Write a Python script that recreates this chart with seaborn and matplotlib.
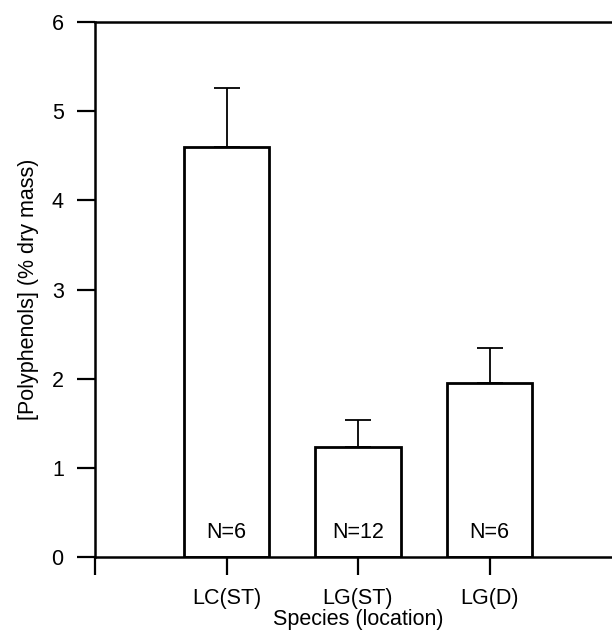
import matplotlib
matplotlib.use("Agg")
import matplotlib.pyplot as plt
import seaborn as sns
import pandas as pd

categories = ["LC(ST)", "LG(ST)", "LG(D)"]
means = [4.60, 1.23, 1.95]
errors = [0.66, 0.31, 0.39]
n_labels = ["N=6", "N=12", "N=6"]
yticks = [0, 1, 2, 3, 4, 5, 6]

sns.set_style("ticks")
plt.rcParams["font.family"] = ["Liberation Sans", "DejaVu Sans"]
plt.rcParams["text.color"] = "black"
plt.rcParams["axes.labelcolor"] = "black"
plt.rcParams["xtick.color"] = "black"
plt.rcParams["ytick.color"] = "black"

FS = 15.5

df = pd.DataFrame({"species": categories, "poly": means})

fig = plt.figure(figsize=(6.12, 6.33), dpi=100)
ax = fig.add_axes([95 / 612, 76 / 633, 526 / 612, 535 / 633])

sns.barplot(data=df, x="species", y="poly", order=categories, color="white",
            edgecolor="black", linewidth=2.0, width=0.65, errorbar=None, ax=ax,
            saturation=1)

xs = [p.get_x() + p.get_width() / 2 for p in ax.patches]
ax.errorbar(xs, means, yerr=[[0] * len(means), errors], fmt="none",
            ecolor="black", elinewidth=1.3, capsize=9.5, capthick=1.3, zorder=1)
for p in ax.patches:
    p.set_zorder(2)

for x, lab in zip(xs, n_labels):
    ax.text(x, 0.28, lab, ha="center", va="center", fontsize=FS, color="black")

ax.set_xlim(-1, 3)
ax.set_ylim(0, 6)
ax.set_yticks(yticks)
ax.set_yticklabels([str(t) for t in yticks], fontsize=FS)
ax.set_xticks([-1, 0, 1, 2])
ax.set_xticklabels([""] + categories, fontsize=FS)
ax.tick_params(axis="both", direction="out", length=13, width=1.6,
               color="black", labelcolor="black")
ax.tick_params(axis="x", pad=9)
ax.tick_params(axis="y", pad=9.5)
for s in ["left", "top", "bottom"]:
    ax.spines[s].set_linewidth(1.8)
    ax.spines[s].set_color("black")
ax.spines["right"].set_visible(False)
ax.spines["top"].set_visible(True)

ax.set_xlabel("Species (location)", fontsize=FS, labelpad=0.5, color="black")
ax.set_ylabel("[Polyphenols] (% dry mass)", fontsize=FS, labelpad=9,
              color="black")

fig.savefig("out.png", dpi=100)
